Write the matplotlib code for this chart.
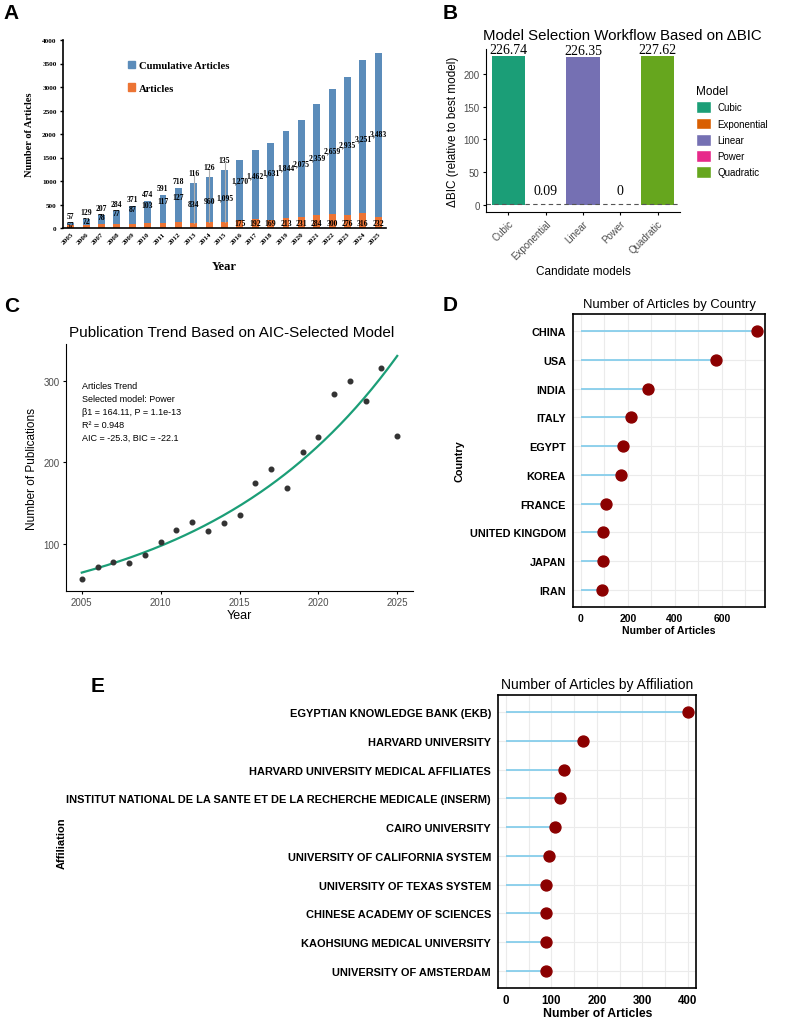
import numpy as np
import matplotlib
matplotlib.use('Agg')
import matplotlib.pyplot as plt
from matplotlib.patches import Patch

# ---- data ----
years = list(range(2005, 2026))
articles = [57, 72, 78, 77, 87, 103, 117, 127, 116, 126, 135,
            175, 192, 169, 213, 231, 284, 300, 276, 316, 232]
cumulative = [57, 129, 207, 284, 371, 474, 591, 718, 834, 960, 1095,
              1270, 1462, 1631, 1844, 2075, 2359, 2659, 2935, 3251, 3483]

models = ['Cubic', 'Exponential', 'Linear', 'Power', 'Quadratic']
delta_bic = [226.74, 0.09, 226.35, 0, 227.62]
model_colors = ['#1b9e77', '#d95f02', '#7570b3', '#e7298a', '#66a61e']

trend_text = ['Articles Trend', 'Selected model: Power',
              'β1 = 164.11, P = 1.1e-13', 'R² = 0.948',
              'AIC = -25.3, BIC = -22.1']

countries = ['CHINA', 'USA', 'INDIA', 'ITALY', 'EGYPT', 'KOREA', 'FRANCE',
             'UNITED KINGDOM', 'JAPAN', 'IRAN']
country_counts = [750, 576, 285, 214, 180, 171, 106, 93, 93, 90]

affiliations = ['EGYPTIAN KNOWLEDGE BANK (EKB)', 'HARVARD UNIVERSITY',
                'HARVARD UNIVERSITY MEDICAL AFFILIATES',
                'INSTITUT NATIONAL DE LA SANTE ET DE LA RECHERCHE MEDICALE (INSERM)',
                'CAIRO UNIVERSITY', 'UNIVERSITY OF CALIFORNIA SYSTEM',
                'UNIVERSITY OF TEXAS SYSTEM', 'CHINESE ACADEMY OF SCIENCES',
                'KAOHSIUNG MEDICAL UNIVERSITY', 'UNIVERSITY OF AMSTERDAM']
affil_counts = [400, 170, 127, 118, 107, 94, 89, 89, 88, 87]

SANS = ['Liberation Sans', 'DejaVu Sans']
SERIF = ['Liberation Serif', 'DejaVu Serif']
plt.rcParams['font.family'] = SANS

W, H = 785, 1020
fig = plt.figure(figsize=(W / 100, H / 100), dpi=100)


def box(l, t, r, b):
    return fig.add_axes([l / W, 1 - b / H, (r - l) / W, (b - t) / H])


def letter(x, y, s):
    fig.text(x / W, 1 - y / H, s, fontsize=15, fontweight='bold',
             family=SANS, va='top', ha='left')


# ---- A: stacked bars ----
blue, orange = '#5b8cba', '#ec7434'
axA = box(63, 41, 386, 229)
x = np.arange(len(years))
axA.bar(x, articles, 0.45, color=orange)
axA.bar(x, cumulative, 0.45, bottom=articles, color=blue)
axA.set_xlim(-0.5, len(years) - 0.5)
axA.set_ylim(0, 4000)
axA.set_yticks(range(0, 4001, 500))
axA.set_xticks(x)
axA.set_xticklabels(years, rotation=45, ha='right', rotation_mode='anchor')
for sp in ['top', 'right']:
    axA.spines[sp].set_visible(False)
for sp in ['left', 'bottom']:
    axA.spines[sp].set_linewidth(1.2)
axA.tick_params(axis='y', length=2.5, width=1, pad=2)
axA.tick_params(axis='x', length=0, pad=2)
for lab in axA.get_xticklabels() + axA.get_yticklabels():
    lab.set_family(SERIF)
    lab.set_fontweight('bold')
    lab.set_fontsize(5.2)
axA.set_xlabel('Year', family=SERIF, fontweight='bold', fontsize=9, labelpad=11)
axA.set_ylabel('Number of Articles', family=SERIF, fontweight='bold',
               fontsize=7.5, labelpad=6)
lf = dict(family=SERIF, fontweight='bold', fontsize=5.5, ha='center', va='center')
for i, (a, c) in enumerate(zip(articles, cumulative)):
    top = a + c
    if i <= 7:
        axA.text(i, top + 150, f'{c:,}', **lf)
        axA.text(i, 70 + 85 * i, str(a), **lf)
    elif i <= 10:
        axA.text(i, top + 220, str(a), **lf)
        axA.plot([i, i], [top + 150, a], color='#b0b0b0', lw=0.8, zorder=3)
        axA.text(i, c * 0.6, f'{c:,}', **lf)
    else:
        axA.text(i, c * 0.45 + 450, f'{c:,}', **lf)
        axA.text(i, 110, str(a), **lf)
axA.legend(handles=[Patch(color=blue, label='Cumulative Articles'),
                    Patch(color=orange, label='Articles')],
           loc='upper left', bbox_to_anchor=(0.17, 0.94), frameon=False,
           prop=dict(family=SERIF, weight='bold', size=7.7),
           handlelength=0.7, handleheight=0.7, handletextpad=0.4,
           labelspacing=1.2)
letter(3, 4, 'A')

# ---- B: delta BIC bars ----
axB = box(486, 50, 680, 213)
xb = np.arange(len(models))
axB.bar(xb, delta_bic, 0.9, color=model_colors)
axB.axhline(2, ls='--', color='#555555', lw=0.8, dashes=(4, 3))
for i, v in enumerate(delta_bic):
    axB.annotate(f'{v:g}', (i, v), xytext=(0, 0 if v > 100 else 6),
                 textcoords='offset points', ha='center', va='bottom',
                 family=SERIF, fontsize=10)
axB.set_xlim(-0.6, len(models) - 0.4)
axB.set_ylim(-10.7, 238)
axB.set_yticks([0, 50, 100, 150, 200])
axB.set_xticks(xb)
axB.set_xticklabels(models, rotation=45, ha='right', rotation_mode='anchor')
for sp in ['top', 'right']:
    axB.spines[sp].set_visible(False)
axB.tick_params(length=2.5, width=0.8, labelsize=7, labelcolor='#4d4d4d', pad=2)
axB.set_xlabel('Candidate models', fontsize=8.5, labelpad=3)
axB.set_ylabel('ΔBIC (relative to best model)', fontsize=8.5, labelpad=3)
fig.text(622 / W, 1 - 36 / H, 'Model Selection Workflow Based on ΔBIC',
         fontsize=10.8, ha='center', va='center')
fig.legend(handles=[Patch(facecolor=c, edgecolor='white', label=m)
                    for m, c in zip(models, model_colors)],
           title='Model', loc='upper left',
           bbox_to_anchor=(692 / W, 1 - 82 / H), frameon=False,
           fontsize=7, title_fontsize=8.5, alignment='left',
           handlelength=1.6, handleheight=1.5, handletextpad=0.6,
           labelspacing=0.45, borderaxespad=0)
letter(443, 4, 'B')

# ---- C: power trend ----
axC = box(66, 345, 413, 592)
axC.scatter(years, articles, s=11, color='#333333', zorder=3)
b1, b0 = np.polyfit(np.log(years), np.log(articles), 1)
xs = np.linspace(years[0], years[-1], 200)
axC.plot(xs, np.exp(b0 + b1 * np.log(xs)), color='#1b9e77', lw=1.6)
axC.set_xlim(2004.0, 2026.0)
axC.set_ylim(42.3, 345.4)
axC.set_xticks(range(2005, 2026, 5))
axC.set_yticks([100, 200, 300])
for sp in ['top', 'right']:
    axC.spines[sp].set_visible(False)
axC.tick_params(length=2.5, width=0.8, labelsize=7, labelcolor='#4d4d4d', pad=2)
axC.set_xlabel('Year', fontsize=9, labelpad=1)
axC.set_ylabel('Number of Publications', fontsize=8.5, labelpad=4)
fig.text(232 / W, 1 - 333 / H, 'Publication Trend Based on AIC-Selected Model',
         fontsize=11, ha='center', va='center')
axC.text(0.047, 0.85, '\n'.join(trend_text), transform=axC.transAxes,
         fontsize=6.5, va='top', ha='left', linespacing=1.55)
letter(4, 297, 'C')


# ---- D / E: lollipops ----
def lollipop(ax, names, vals, lab_size, tick_size):
    ypos = np.arange(len(names))[::-1] + 1
    ax.hlines(ypos, 0, vals, color='#87ceeb', lw=1.3, zorder=2)
    ax.scatter(vals, ypos, s=62, color='#8b0000', zorder=3)
    ax.set_yticks(ypos)
    ax.set_yticklabels(names, fontweight='bold', fontsize=lab_size)
    ax.set_ylim(0.4, len(names) + 0.6)
    ax.grid(True, which='both', color='#ebebeb', lw=0.8, zorder=0)
    ax.set_axisbelow(True)
    for sp in ax.spines.values():
        sp.set_linewidth(1.2)
    ax.tick_params(which='both', length=0, pad=5)
    ax.tick_params(axis='x', pad=4)
    for lab in ax.get_xticklabels():
        lab.set_fontweight('bold')
        lab.set_fontsize(tick_size)


axD = box(573, 315, 765, 608)
axD.set_xlim(-33, 784)
axD.set_xticks([0, 200, 400, 600])
axD.set_xticks([100, 300, 500, 700], minor=True)
lollipop(axD, countries, country_counts, 7.8, 7.5)
axD.set_xlabel('Number of Articles', fontweight='bold', fontsize=7.6, labelpad=2)
axD.set_ylabel('Country', fontweight='bold', fontsize=7.8, labelpad=4)
axD.set_title('Number of Articles by Country', fontsize=9.4, pad=5)
letter(443, 296, 'D')

axE = box(498, 696, 696.5, 989)
axE.set_xlim(-17.6, 419)
axE.set_xticks([0, 100, 200, 300, 400])
axE.set_xticks([50, 150, 250, 350], minor=True)
lollipop(axE, affiliations, affil_counts, 7.9, 8.3)
axE.set_xlabel('Number of Articles', fontweight='bold', fontsize=8.8, labelpad=1)
axE.set_title('Number of Articles by Affiliation', fontsize=10, pad=5)
fig.text(62 / W, 1 - 843 / H, 'Affiliation', rotation=90, fontweight='bold',
         fontsize=8, ha='center', va='center')
letter(91, 677, 'E')

fig.savefig('out.png', dpi=100)
